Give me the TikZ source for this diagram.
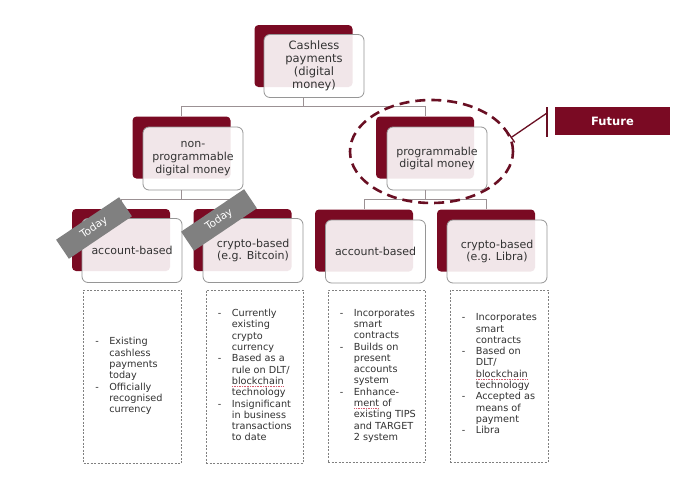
\documentclass[tikz,border=0pt]{standalone}
\usepackage{fontspec}
\setmainfont{DejaVu Sans}
\usetikzlibrary{shapes.geometric,calc}
\definecolor{maroon}{RGB}{122,10,35}
\definecolor{darkmaroon}{RGB}{105,15,35}
\definecolor{lineg}{RGB}{155,145,148}
\definecolor{boxg}{RGB}{150,150,150}
\definecolor{txt}{RGB}{50,50,50}
\definecolor{bann}{RGB}{128,128,128}
\definecolor{squigred}{RGB}{215,90,110}
\newcommand\notelist[1]{\begin{tabular}{@{}p{14pt}@{}l@{}}#1\end{tabular}}
\newlength\sqw
\newcommand\squig[1]{\settowidth\sqw{#1}\rlap{\raisebox{-2.2pt}{\color{squigred}\hbox to \sqw{\xleaders\hbox to 1.6pt{\hss\rule{0.9pt}{0.5pt}\hss}\hfill}}}#1}
\begin{document}
\begin{tikzpicture}[x=1pt,y=-1pt,
 backbox/.style={fill=maroon, rounded corners=4pt, minimum width=98pt, minimum height=62pt, inner sep=0pt},
 frontbox/.style={draw=boxg, line width=0.8pt, fill=white, fill opacity=0.9, text opacity=1, rounded corners=6pt, minimum width=100pt, minimum height=63pt, inner sep=0pt, align=center, text=txt, font=\fontsize{11}{12.6}\selectfont},
 conn/.style={draw=lineg, line width=0.9pt},
 notebox/.style={draw=gray, line width=0.7pt, dash pattern=on 2pt off 1.5pt, minimum width=98pt, minimum height=173pt, inner sep=0pt},
 body/.style={anchor=west, inner sep=0pt, text=txt, font=\fontsize{9.7}{11.3}\selectfont},
 banner/.style={fill=bann, minimum width=76pt, minimum height=23pt, inner sep=0pt, text=white, font=\fontsize{10.5}{12}\selectfont, rotate=34},
 callout/.style={draw=darkmaroon, line width=1.3pt},
]
\fill[white] (0,0) rectangle (686,482);
\path[use as bounding box] (0,0) rectangle (686,482);

% back boxes
\node[backbox] (tb) at (303.5,56) {};
\node[backbox] (lb) at (181.5,147.5) {};
\node[backbox] (rb) at (425,147.5) {};
\node[backbox] (ab) at (121,240) {};
\node[backbox] (bb) at (242.5,240) {};
\node[backbox] (cb) at (364,240.5) {};
\node[backbox] (db) at (486,240.5) {};

% connector levels
\coordinate (h1) at (0,106);
\coordinate (h2) at (0,199);

% front boxes
\node[frontbox, font=\fontsize{11.5}{13}\selectfont] (t) at (314,66) {Cashless\\payments\\(digital\\money)};
\node[frontbox] (l) at (193,158.5) {non-\\programmable\\digital money};
\node[frontbox] (r) at (437,158.5) {programmable\\digital money};
\node[frontbox, minimum height=64pt] (a) at (132,250.5) {account-based};
\node[frontbox, minimum height=64pt] (b) at (253,250.5) {crypto-based\\(e.g. Bitcoin)};
\node[frontbox] (c) at (375.5,251.5) {account-based};
\node[frontbox] (d) at (497,251.5) {crypto-based\\(e.g. Libra)};

% connectors
\draw[conn] (tb.south |- t.south) -- (tb.south |- h1) -| (lb.north);
\draw[conn] (tb.south |- h1) -| (rb.north);
\draw[conn] (lb.south |- l.south) -- (lb.south |- h2) -| (ab.north);
\draw[conn] (lb.south |- h2) -| (bb.north);
\draw[conn] (rb.south |- r.south) -- (rb.south |- h2) -| (cb.north);
\draw[conn] (rb.south |- h2) -| (db.north);

% note boxes
\node[notebox] (n1) at (132.5,376.5) {};
\node[notebox, minimum width=97pt] (n2) at (254.5,376.5) {};
\node[notebox, minimum width=97pt, minimum height=172pt] (n3) at (376.5,376) {};
\node[notebox, minimum height=172pt] (n4) at (499,376) {};

\node[body] (t1) at ([xshift=12pt]n1.west) {\notelist{-&Existing\\&cashless\\&payments\\&today\\-&Officially\\&recognised\\&currency}};
\node[body] (t2) at ([xshift=12pt]n2.west) {\notelist{-&Currently\\&existing\\&crypto\\&currency\\-&Based as a\\&rule on DLT/\\&\squig{blockchain}\\&technology\\-&Insignificant\\&in business\\&transactions\\&to date}};
\node[body] (t3) at ([xshift=12pt]n3.west) {\notelist{-&Incorporates\\&smart\\&contracts\\-&Builds on\\&present\\&accounts\\&system\\-&Enhance-\\&\squig{ment} of\\&existing TIPS\\&and TARGET\\&2 system}};
\node[body] (t4) at ([xshift=12pt,yshift=1pt]n4.west) {\notelist{-&Incorporates\\&smart\\&contracts\\-&Based on\\&DLT/\\&\squig{blockchain}\\&technology\\-&Accepted as\\&means of\\&payment\\-&Libra}};

% future highlight
\node[ellipse, draw=darkmaroon, line width=2.6pt, dash pattern=on 10pt off 6pt, minimum width=163pt, minimum height=103pt, inner sep=0pt] (ell) at (431.5,151.5) {};
\coordinate (fb) at (547,113);
\coordinate (fbt) at (547,107);
\coordinate (fbb) at (547,137);
\draw[callout] (ell.10) -- (fb);
\draw[callout] (fbt) -- (fbb);
\draw[callout] ($(ell.10)!6pt!90:(fb)$) -- ($(ell.10)!6pt!-90:(fb)$);
\node[fill=maroon, minimum width=115pt, minimum height=28pt, inner sep=0pt, text=white, font=\bfseries\fontsize{11.5}{13}\selectfont] (fut) at (612.5,121) {Future};

% banners
\node[banner] (today1) at (94,228) {Today};
\node[banner] (today2) at (219,220) {Today};
\end{tikzpicture}
\end{document}
